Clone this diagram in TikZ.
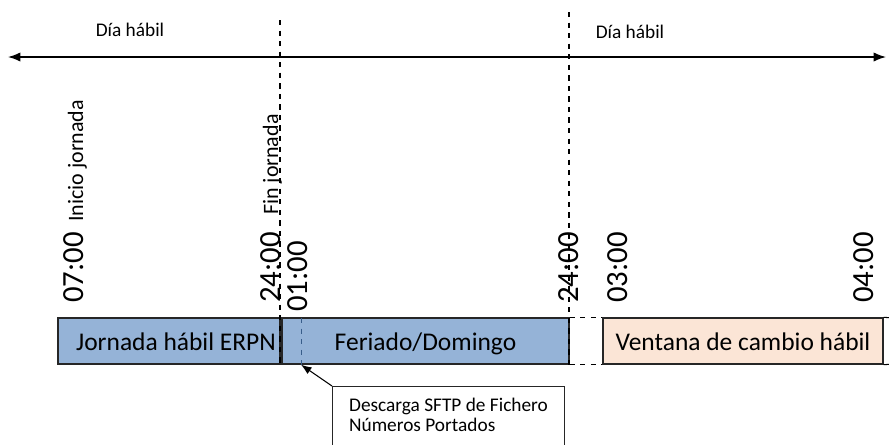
\documentclass[tikz,border=0pt]{standalone}
\usepackage{fontspec}
\setmainfont{Carlito}
\usetikzlibrary{arrows.meta}
\definecolor{feriado}{RGB}{149,179,215}
\definecolor{ventana}{RGB}{251,229,214}
\definecolor{marca}{RGB}{56,93,138}

\begin{document}
\begin{tikzpicture}[x=0.02cm,y=-0.02cm,
	franja/.style={draw=black!85,line width=0.8pt,minimum height=0.92cm,inner sep=0pt,text height=10.5pt,text depth=0pt,font=\fontsize{14.5}{16}\selectfont},
	hora/.style={rotate=90,anchor=base west,inner sep=0pt,font=\fontsize{17.5}{19}\selectfont},
	rotulo/.style={rotate=90,anchor=base west,inner sep=0pt,font=\fontsize{12.5}{14}\selectfont},
	dia/.style={font=\fontsize{11}{13}\selectfont},
	corte/.style={dashed,line width=0.6pt}]
	\clip (0,0) rectangle (894,444);
	% eje del tiempo
	\coordinate (ejeI) at (8,57);
	\coordinate (ejeD) at (886,57);
	\draw[{Latex[length=7pt]}-{Latex[length=7pt]},line width=0.8pt] (ejeI) -- (ejeD);
	\node[dia] (dia1) at (130,30) {Día hábil};
	\node[dia] (dia2) at (630,32) {Día hábil};
	% franjas
	\node[franja,fill=feriado,minimum width=4.44cm] (jornada) at (169,341) {\hspace{8pt}Jornada hábil ERPN};
	\node[franja,fill=feriado,minimum width=5.74cm] (feriado) at (425.5,341) {Feriado/Domingo};
	\node[franja,fill=ventana,minimum width=5.6cm] (ventana) at (743,341) {Ventana de cambio hábil};
	\coordinate (desc) at (301,318);
	\draw[marca,dashed,line width=0.4pt] (desc) -- (desc |- feriado.south);
	% cortes de dia
	\coordinate (fin) at (280,20);
	\coordinate (medianoche) at (569,12);
	\draw[corte] (fin) -- (fin |- jornada.south);
	\draw[corte] (medianoche) -- (medianoche |- feriado.south);
	\coordinate (bordeN) at (894,318);
	\coordinate (bordeS) at (894,364);
	\draw[corte] (feriado.north east) -- (ventana.north west);
	\draw[corte] (feriado.south east) -- (ventana.south west);
	\draw[corte] (ventana.north east) -- (bordeN);
	\draw[corte] (ventana.south east) -- (bordeS);
	% horas
	\node[hora] (h0700) at (83,303) {07:00};
	\node[rotulo] (inicio) at (83,222) {Inicio jornada};
	\node[rotulo] (finJ) at (278,215) {Fin jornada};
	\node[hora] (h2400a) at (280,303) {24:00};
	\node[hora] (h0100) at (307,312) {01:00};
	\node[hora] (h2400b) at (578,303) {24:00};
	\node[hora] (h0300) at (627,303) {03:00};
	\node[hora] (h0400) at (873,303) {04:00};
	% descarga
	\node[draw=black!85,line width=0.6pt,anchor=north west,minimum width=4.64cm,
		inner xsep=0.22cm,inner ysep=0.24cm,align=left,font=\fontsize{11}{11.2}\selectfont]
		(aviso) at (332,386) {Descarga SFTP de Fichero\\Números Portados\rule[-12pt]{0pt}{12pt}};
	\draw[-{Latex[length=6pt]},line width=0.6pt] (aviso.north west) -- (desc |- feriado.south);
\end{tikzpicture}
\end{document}
